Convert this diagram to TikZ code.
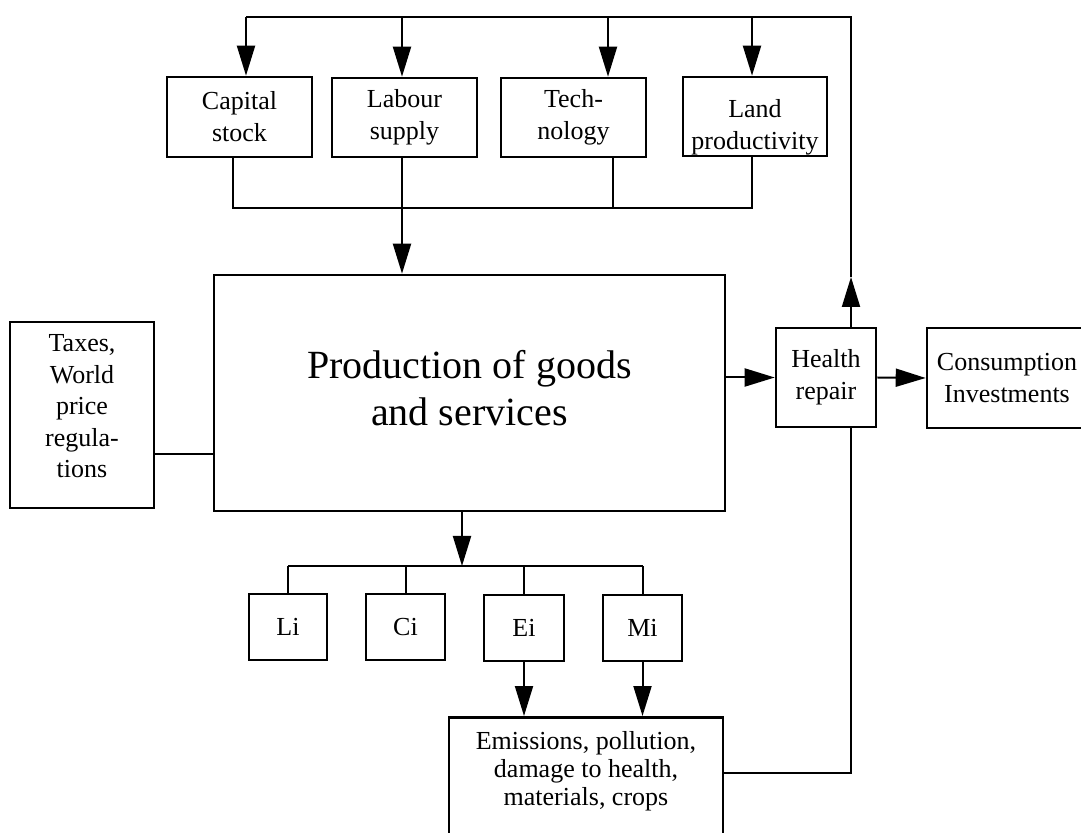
\documentclass[tikz,border=0pt]{standalone}
\usepackage{fontspec}
\setmainfont{Liberation Serif}
\usetikzlibrary{arrows.meta}

\tikzset{
  box/.style={draw, line width=1.3pt, align=center, inner sep=0pt, font=\fontsize{13pt}{16pt}\selectfont},
  link/.style={line width=1pt},
  arr/.style={link, -{Triangle[length=15pt, width=9pt]}},
}

\begin{document}
\begin{tikzpicture}[x=0.5pt, y=-0.5pt]
			\useasboundingbox (0, 0) rectangle (1081, 833);
			%%%%% START %%%%%
			
			% factors on top
			\node[box, minimum width=72.5pt, minimum height=40pt] (cap) at (239.5, 117) {Capital\\stock};
			\node[box, minimum width=72.5pt, minimum height=39.5pt] (lab) at (404.5, 117.5) {Labour\\supply};
			\node[box, minimum width=72.5pt, minimum height=39.5pt] (tech) at (573.5, 117.5) {Tech-\\nology};
			\node[box, minimum width=72pt, minimum height=39.5pt] (land) at (755, 116.5) {\rule{0pt}{20pt}Land\\productivity};
			
			% middle row
			\node[box, minimum width=72pt, minimum height=93pt, font=\fontsize{13pt}{15.75pt}\selectfont] (tax) at (82, 415) {Taxes,\\World\\price\\regula-\\tions\rule[-9pt]{0pt}{9pt}};
			\node[box, minimum width=255.5pt, minimum height=118pt, font=\fontsize{20pt}{23.5pt}\selectfont] (prod) at (469.5, 393) {Production of goods\\and services\rule[-5pt]{0pt}{5pt}};
			\node[box, minimum width=50pt, minimum height=49.5pt] (health) at (826, 377.5) {Health\\repair};
			\node[box, minimum width=80pt, minimum height=50pt] (cons) at (1007, 378) {Consumption\\Investments};
			
			% inputs used
			\node[box, minimum width=39pt, minimum height=33pt] (Li) at (288, 627) {Li};
			\node[box, minimum width=39.5pt, minimum height=33pt] (Ci) at (405.5, 627) {Ci};
			\node[box, minimum width=40pt, minimum height=33pt] (Ei) at (524, 628) {Ei};
			\node[box, minimum width=39.5pt, minimum height=33pt] (Mi) at (642.5, 628) {Mi};
			
			\node[box, anchor=north, minimum width=137pt, inner ysep=7pt, font=\fontsize{13pt}{14pt}\selectfont] (emis) at (586, 716) {Emissions, pollution,\\damage to health,\\materials, crops\\\strut};
			
			% feedback loop over the top
			\coordinate (topR) at (851, 17);
			\coordinate (tipH) at (851, 277);
			\coordinate (cornerB) at (851, 773);
			\draw[arr] ([xshift=12.5pt]health.north) -- (tipH);
			\draw[link] (tipH) -- (topR) -- ([xshift=3.25pt]cap.north |- topR);
			\foreach \n/\dx in {cap/3.25pt, lab/-1.25pt, tech/17.25pt, land/-1.5pt}
				\draw[arr] ([xshift=\dx]\n.north |- topR) -- ([xshift=\dx]\n.north);
			
			% factors into production
			\coordinate (joinT) at (402, 208);
			\draw[link] ([xshift=-3.25pt]cap.south) -- ([xshift=-3.25pt]cap.south |- joinT) -- ([xshift=-1.5pt]land.south |- joinT) -- ([xshift=-1.5pt]land.south);
			\draw[link] ([xshift=19.75pt]tech.south) -- ([xshift=19.75pt]tech.south |- joinT);
			\draw[arr] ([xshift=-1.25pt]lab.south) -- ([xshift=-1.25pt]lab.south |- prod.north);
			
			\draw[link] ([yshift=-19.5pt]tax.east) -- ([yshift=-19.5pt]tax.east -| prod.west);
			\draw[arr] (prod.east |- health.west) -- (health.west);
			\draw[arr] (health.east) -- (cons.west);
			
			% production into inputs
			\coordinate (joinB) at (462, 566);
			\draw[arr] (prod.south -| joinB) -- (joinB);
			\draw[link] (Li.north |- joinB) -- (Mi.north |- joinB);
			\foreach \n in {Li, Ci, Ei, Mi}
				\draw[link] (\n.north |- joinB) -- (\n.north);
			\draw[arr] (Ei.south) -- (Ei.south |- emis.north);
			\draw[arr] (Mi.south) -- (Mi.south |- emis.north);
			
			% damage back to health repair
			\draw[link] (emis.east |- cornerB) -- (cornerB) -- ([xshift=12.5pt]health.south);
			
			%%%%% END %%%%%
\end{tikzpicture}
\end{document}
